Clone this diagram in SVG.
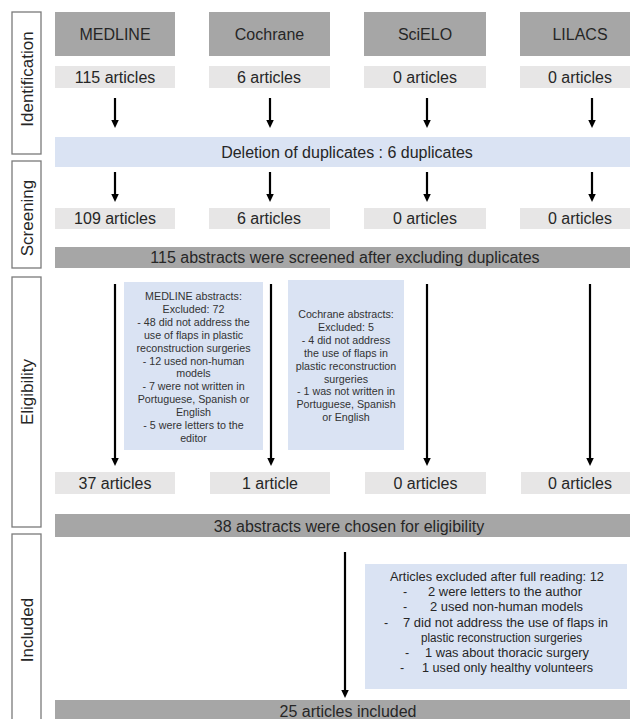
<svg xmlns="http://www.w3.org/2000/svg" width="630" height="719" viewBox="0 0 630 719">
<style>
text{font-family:"Liberation Sans",Arial,sans-serif;fill:#262626}
.side{fill:#fff;stroke:#7a7a7a;stroke-width:1.3}
.sl{font-size:17px;text-anchor:middle}
.hdr{fill:#a6a6a6}
.art{fill:#e7e6e6}
.blue{fill:#dae3f3}
.bar{fill:#a6a6a6}
.m{font-size:16px;text-anchor:middle}
.s{font-size:10.7px;text-anchor:middle;fill:#333}
.x{font-size:12.5px;fill:#262626}
.c line{stroke:#000;stroke-width:2.2;marker-end:url(#ah)}
</style>
<defs>
<marker id="ah" markerUnits="userSpaceOnUse" markerWidth="9" markerHeight="8" refX="2" refY="3.75" orient="auto">
<path d="M0,0 L8,3.75 L0,7.5 z" fill="#000"/>
</marker>
</defs>

<g id="stage-identification"><rect class="side" x="12" y="12" width="29" height="142"/><text class="sl" transform="translate(33,79) rotate(-90)">Identification</text></g>
<g id="stage-screening"><rect class="side" x="12" y="161" width="29" height="107"/><text class="sl" transform="translate(33,218) rotate(-90)">Screening</text></g>
<g id="stage-eligibility"><rect class="side" x="12" y="277" width="29" height="250"/><text class="sl" transform="translate(33,392) rotate(-90)">Eligibility</text></g>
<g id="stage-included"><rect class="side" x="12" y="534" width="29" height="200"/><text class="sl" transform="translate(33,630) rotate(-90)">Included</text></g>

<g id="db-medline"><rect class="hdr" x="55" y="12" width="120" height="44"/><text class="m" x="115" y="40">MEDLINE</text></g>
<g id="db-cochrane"><rect class="hdr" x="209" y="12" width="121" height="44"/><text class="m" x="269.5" y="40">Cochrane</text></g>
<g id="db-scielo"><rect class="hdr" x="364" y="12" width="122" height="44"/><text class="m" x="425" y="40">SciELO</text></g>
<g id="db-lilacs"><rect class="hdr" x="520" y="12" width="120" height="44"/><text class="m" x="580" y="40">LILACS</text></g>

<g id="id-medline"><rect class="art" x="55" y="66" width="120" height="22"/><text class="m" x="115" y="83">115 articles</text></g>
<g id="id-cochrane"><rect class="art" x="209" y="66" width="121" height="22"/><text class="m" x="269" y="83">6 articles</text></g>
<g id="id-scielo"><rect class="art" x="364" y="66" width="122" height="22"/><text class="m" x="425" y="83">0 articles</text></g>
<g id="id-lilacs"><rect class="art" x="520" y="66" width="120" height="22"/><text class="m" x="580" y="83">0 articles</text></g>

<g id="dedup"><rect class="blue" x="55" y="137" width="585" height="30"/><text class="m" x="347" y="157.5">Deletion of duplicates : 6 duplicates</text></g>

<g id="sc-medline"><rect class="art" x="55" y="208" width="120" height="21"/><text class="m" x="115" y="224">109 articles</text></g>
<g id="sc-cochrane"><rect class="art" x="209" y="208" width="121" height="21"/><text class="m" x="269" y="224">6 articles</text></g>
<g id="sc-scielo"><rect class="art" x="364" y="208" width="122" height="21"/><text class="m" x="425" y="224">0 articles</text></g>
<g id="sc-lilacs"><rect class="art" x="520" y="208" width="120" height="21"/><text class="m" x="580" y="224">0 articles</text></g>

<g id="screened"><rect class="bar" x="55" y="247" width="585" height="21"/><text class="m" x="345" y="262.5">115 abstracts were screened after excluding duplicates</text></g>

<g id="excl-medline"><rect class="blue" x="124" y="282" width="139" height="168"/>
<text class="s" y="300"><tspan x="193.5">MEDLINE abstracts:</tspan><tspan x="193.5" dy="12.9">Excluded: 72</tspan><tspan x="193.5" dy="12.9">- 48 did not address the</tspan><tspan x="193.5" dy="12.9">use of flaps in plastic</tspan><tspan x="193.5" dy="12.9">reconstruction  surgeries</tspan><tspan x="193.5" dy="12.9">- 12 used non-human</tspan><tspan x="193.5" dy="12.9">models</tspan><tspan x="193.5" dy="12.9">- 7 were not written in</tspan><tspan x="193.5" dy="12.9">Portuguese, Spanish or</tspan><tspan x="193.5" dy="12.9">English</tspan><tspan x="193.5" dy="12.9">- 5 were letters to the</tspan><tspan x="193.5" dy="12.9">editor</tspan></text></g>

<g id="excl-cochrane"><rect class="blue" x="288" y="280" width="116" height="170"/>
<text class="s" y="318"><tspan x="346">Cochrane abstracts:</tspan><tspan x="346" dy="12.9">Excluded: 5</tspan><tspan x="346" dy="12.9">- 4 did not address</tspan><tspan x="346" dy="12.9">the use of flaps in</tspan><tspan x="346" dy="12.9">plastic reconstruction</tspan><tspan x="346" dy="12.9">surgeries</tspan><tspan x="346" dy="12.9">- 1 was not written in</tspan><tspan x="346" dy="12.9">Portuguese, Spanish</tspan><tspan x="346" dy="12.9">or English</tspan></text></g>

<g id="el-medline"><rect class="art" x="55" y="472" width="120" height="22"/><text class="m" x="115" y="489">37 articles</text></g>
<g id="el-cochrane"><rect class="art" x="210" y="472" width="120" height="22"/><text class="m" x="270" y="489">1 article</text></g>
<g id="el-scielo"><rect class="art" x="365" y="472" width="121" height="22"/><text class="m" x="425.5" y="489">0 articles</text></g>
<g id="el-lilacs"><rect class="art" x="521" y="472" width="119" height="22"/><text class="m" x="580" y="489">0 articles</text></g>

<g id="eligible"><rect class="bar" x="55" y="514" width="585" height="23"/><text class="m" x="349" y="532">38 abstracts were chosen for eligibility</text></g>

<g id="excl-fulltext"><rect class="blue" x="365" y="564" width="262" height="125"/>
<text class="x" x="390" y="581" textLength="214" lengthAdjust="spacingAndGlyphs">Articles excluded after full reading: 12</text>
<text class="x" x="403" y="596">-</text><text class="x" x="428" y="596" textLength="154" lengthAdjust="spacingAndGlyphs">2 were letters to the author</text>
<text class="x" x="403" y="611">-</text><text class="x" x="430" y="611" textLength="153" lengthAdjust="spacingAndGlyphs">2 used non-human models</text>
<text class="x" x="384" y="626.5">-</text><text class="x" x="403" y="626.5" textLength="205" lengthAdjust="spacingAndGlyphs">7 did not address the use of flaps in</text>
<text class="x" x="421" y="641.5" textLength="161" lengthAdjust="spacingAndGlyphs">plastic reconstruction surgeries</text>
<text class="x" x="405" y="657">-</text><text class="x" x="425" y="657" textLength="164" lengthAdjust="spacingAndGlyphs">1 was about thoracic surgery</text>
<text class="x" x="400" y="672">-</text><text class="x" x="422" y="672" textLength="171" lengthAdjust="spacingAndGlyphs">1 used only healthy volunteers</text>
</g>

<g id="included"><rect class="bar" x="55" y="700" width="585" height="25"/><text class="m" x="348" y="717">25 articles included</text></g>

<g id="connectors" class="c">
<line x1="115" y1="98" x2="115" y2="122"/>
<line x1="270" y1="98" x2="270" y2="122"/>
<line x1="427" y1="98" x2="427" y2="122"/>
<line x1="592" y1="98" x2="592" y2="122"/>
<line x1="115" y1="172" x2="115" y2="196"/>
<line x1="270" y1="172" x2="270" y2="196"/>
<line x1="427" y1="172" x2="427" y2="196"/>
<line x1="592" y1="172" x2="592" y2="196"/>
<line x1="115" y1="284" x2="115" y2="460"/>
<line x1="271" y1="284" x2="271" y2="460"/>
<line x1="427" y1="284" x2="427" y2="460"/>
<line x1="590" y1="284" x2="590" y2="460"/>
<line x1="345" y1="552" x2="345" y2="692"/>
</g>
</svg>
